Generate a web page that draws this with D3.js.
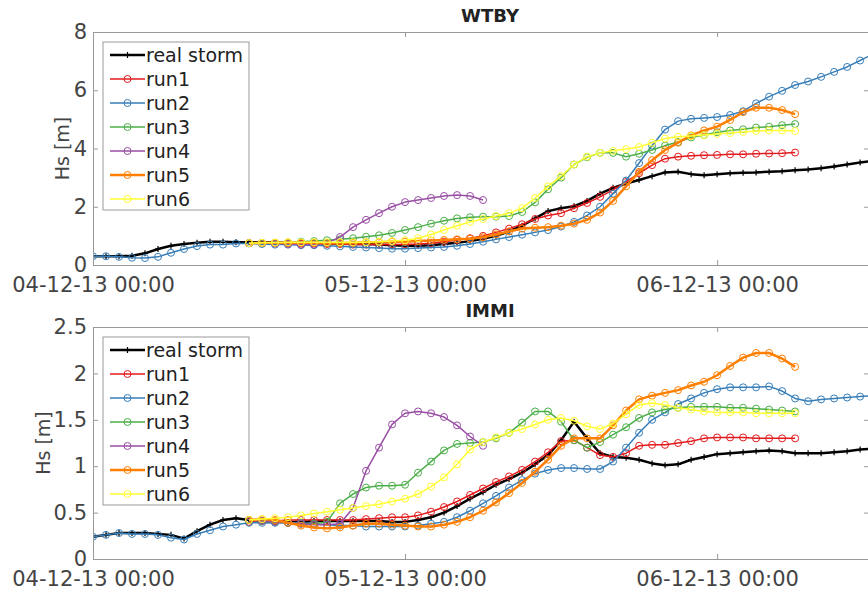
<!DOCTYPE html>
<html>
<head>
<meta charset="utf-8">
<title>Hs - WTBY / IMMI</title>
<script src="https://d3js.org/d3.v7.min.js"></script>
<style>
body { margin: 0; background: #fff; }
svg { display: block; font-family: "DejaVu Sans", Verdana, sans-serif; }
.axis path, .axis line { stroke: #999; }
.axis text { fill: #444; font-size: 21px; }
</style>
</head>
<body>
<svg width="868" height="591"></svg>
<script>
// hourly Hs [m]; real storm and run2 start 04-12-13 00:00, run1,3,4,5,6 start at 12:00
var wtbyReal = [0.3,0.3,0.3,0.32,0.4,0.55,0.66,0.72,0.76,0.8,
  0.8,0.78,0.78,0.78,0.78,0.76,0.75,0.75,0.74,0.73,
  0.72,0.72,0.7,0.68,0.66,0.66,0.68,0.72,0.76,0.82,
  0.9,1.0,1.15,1.35,1.6,1.85,1.95,2.02,2.2,2.45,
  2.65,2.8,2.92,3.05,3.18,3.2,3.12,3.08,3.12,3.15,
  3.17,3.18,3.2,3.22,3.25,3.28,3.32,3.38,3.45,3.52,3.58];
var wtbyRun1 = [0.75,0.75,0.75,0.75,0.74,0.74,0.72,0.72,0.7,0.7,
  0.7,0.7,0.7,0.72,0.75,0.8,0.86,0.92,1.0,1.12,
  1.25,1.4,1.58,1.7,1.78,1.95,2.13,2.34,2.58,2.85,
  3.15,3.43,3.65,3.72,3.75,3.77,3.78,3.8,3.8,3.82,
  3.83,3.84,3.86];
var wtbyRun2 = [0.3,0.3,0.28,0.25,0.24,0.28,0.42,0.55,0.65,0.7,
  0.7,0.74,0.74,0.72,0.7,0.7,0.68,0.68,0.66,0.64,
  0.62,0.6,0.58,0.56,0.56,0.58,0.6,0.62,0.66,0.72,
  0.8,0.88,0.96,1.04,1.12,1.2,1.32,1.48,1.7,2.0,
  2.45,2.9,3.5,4.1,4.65,4.94,5.02,5.05,5.08,5.15,
  5.28,5.55,5.78,5.98,6.18,6.3,6.46,6.63,6.8,7.02,7.25];
var wtbyRun3 = [0.75,0.75,0.76,0.77,0.8,0.82,0.85,0.88,0.92,0.97,
  1.02,1.1,1.2,1.3,1.42,1.52,1.6,1.64,1.66,1.66,
  1.68,1.82,2.15,2.6,3.0,3.45,3.7,3.85,3.85,3.72,
  3.82,3.95,4.1,4.22,4.38,4.46,4.56,4.62,4.66,4.72,
  4.75,4.8,4.84];
var wtbyRun4 = [0.75,0.75,0.74,0.72,0.7,0.7,0.75,0.96,1.3,1.55,
  1.78,2.0,2.16,2.23,2.3,2.37,2.4,2.37,2.23];
var wtbyRun5 = [0.75,0.76,0.76,0.76,0.76,0.76,0.75,0.75,0.76,0.78,
  0.78,0.8,0.8,0.82,0.84,0.86,0.88,0.9,0.95,1.05,
  1.15,1.25,1.28,1.3,1.35,1.42,1.55,1.8,2.2,2.7,
  3.2,3.6,3.95,4.2,4.45,4.62,4.75,4.98,5.25,5.4,
  5.4,5.32,5.18];
var wtbyRun6 = [0.75,0.76,0.77,0.78,0.78,0.78,0.78,0.78,0.78,0.78,
  0.8,0.82,0.85,0.92,1.05,1.2,1.35,1.48,1.58,1.68,
  1.78,1.95,2.3,2.7,3.05,3.45,3.72,3.85,3.92,3.98,
  4.05,4.2,4.34,4.4,4.43,4.46,4.5,4.53,4.57,4.6,
  4.62,4.62,4.6];

var immiReal = [0.24,0.26,0.28,0.28,0.28,0.27,0.26,0.22,0.3,0.37,
  0.42,0.44,0.42,0.4,0.4,0.4,0.4,0.41,0.41,0.41,
  0.41,0.41,0.41,0.4,0.4,0.42,0.45,0.5,0.57,0.65,
  0.72,0.8,0.86,0.93,1.02,1.12,1.28,1.48,1.3,1.14,
  1.1,1.09,1.07,1.03,1.01,1.02,1.07,1.1,1.13,1.14,
  1.15,1.16,1.17,1.16,1.14,1.14,1.14,1.15,1.16,1.18,1.19];
var immiRun1 = [0.4,0.41,0.41,0.42,0.42,0.42,0.42,0.42,0.42,0.43,
  0.44,0.45,0.45,0.47,0.51,0.56,0.62,0.69,0.76,0.83,
  0.89,0.96,1.05,1.15,1.27,1.28,1.2,1.12,1.1,1.14,
  1.22,1.23,1.23,1.25,1.27,1.3,1.31,1.31,1.31,1.3,
  1.3,1.3,1.3];
var immiRun2 = [0.24,0.26,0.28,0.27,0.27,0.26,0.23,0.21,0.27,0.31,
  0.35,0.37,0.39,0.39,0.39,0.39,0.39,0.38,0.37,0.36,
  0.36,0.35,0.35,0.35,0.35,0.36,0.38,0.4,0.45,0.52,
  0.6,0.68,0.77,0.85,0.92,0.96,0.98,0.98,0.97,0.97,
  1.05,1.2,1.36,1.5,1.58,1.67,1.73,1.79,1.83,1.85,
  1.85,1.85,1.86,1.81,1.73,1.7,1.72,1.73,1.74,1.75,1.76];
var immiRun3 = [0.42,0.41,0.4,0.39,0.38,0.38,0.4,0.6,0.7,0.77,
  0.79,0.79,0.8,0.93,1.05,1.17,1.24,1.25,1.26,1.3,
  1.36,1.47,1.59,1.59,1.48,1.28,1.2,1.26,1.34,1.42,
  1.52,1.58,1.61,1.63,1.64,1.64,1.64,1.63,1.63,1.62,
  1.61,1.6,1.59];
var immiRun4 = [0.42,0.41,0.4,0.39,0.38,0.37,0.37,0.38,0.55,0.95,
  1.2,1.45,1.57,1.59,1.57,1.53,1.44,1.32,1.22];
var immiRun5 = [0.42,0.43,0.42,0.39,0.36,0.34,0.33,0.34,0.36,0.38,
  0.38,0.37,0.36,0.35,0.35,0.37,0.4,0.45,0.52,0.61,
  0.71,0.82,0.94,1.07,1.22,1.3,1.3,1.3,1.44,1.6,
  1.72,1.76,1.79,1.82,1.87,1.91,1.98,2.08,2.17,2.22,
  2.22,2.16,2.07];
var immiRun6 = [0.42,0.43,0.44,0.45,0.47,0.49,0.51,0.53,0.55,0.57,
  0.59,0.62,0.65,0.7,0.78,0.88,1.02,1.18,1.26,1.31,
  1.36,1.4,1.45,1.5,1.52,1.49,1.43,1.4,1.46,1.56,
  1.66,1.68,1.66,1.63,1.61,1.59,1.58,1.58,1.58,1.57,
  1.57,1.57,1.57];

var seriesNames = ["real storm", "run1", "run2", "run3", "run4", "run5", "run6"];
var seriesColors = ["#000000", "#e41a1c", "#377eb8", "#4daf4a", "#984ea3", "#ff7f00", "#ffff33"];
var seriesStart = [0, 12, 0, 12, 12, 12, 12];   // start hour after 04-12-13 00:00
var wtbyTicks = [0, 2, 4, 6, 8];
var immiTicks = [0, 0.5, 1, 1.5, 2, 2.5];

var svg = d3.select("svg");
var t0 = new Date(Date.UTC(2013, 11, 4, 0, 0));
var x = d3.scaleUtc()
    .domain([t0, new Date(Date.UTC(2013, 11, 6, 11, 41))])
    .range([93, 869]);
var xTicks = [new Date(Date.UTC(2013, 11, 4)), new Date(Date.UTC(2013, 11, 5)), new Date(Date.UTC(2013, 11, 6))];
var fmt = d3.utcFormat("%d-%m-%y %H:%M");

var panels = [
  {name: "WTBY", top: 32, bottom: 265, yMax: 8, ticks: wtbyTicks, labelX: 62,
   data: [wtbyReal, wtbyRun1, wtbyRun2, wtbyRun3, wtbyRun4, wtbyRun5, wtbyRun6]},
  {name: "IMMI", top: 327, bottom: 559, yMax: 2.5, ticks: immiTicks, labelX: 43,
   data: [immiReal, immiRun1, immiRun2, immiRun3, immiRun4, immiRun5, immiRun6]}
];

function lineWidth(i) { return i === 0 || i === 5 ? 2.5 : 1.5; }

function drawMarker(sel, i) {
  if (i === 0) {
    sel.append("path").attr("d", "M-3,0H3M0,-3V3")
      .attr("stroke", seriesColors[i]).attr("stroke-width", 1.2);
  } else {
    sel.append("circle").attr("r", 3.5).attr("fill", "none")
      .attr("stroke", seriesColors[i]).attr("stroke-width", 1);
  }
}

panels.forEach(function(p) {
  var y = d3.scaleLinear().domain([0, p.yMax]).range([p.bottom, p.top]);
  var g = svg.append("g");

  svg.append("clipPath").attr("id", "clip-" + p.name)
    .append("rect").attr("x", 93).attr("y", p.top - 4)
    .attr("width", 776).attr("height", p.bottom - p.top + 4);

  var plot = g.append("g").attr("clip-path", "url(#clip-" + p.name + ")");
  var line = d3.line().x(function(d) { return x(d.t); }).y(function(d) { return y(d.v); });

  p.data.forEach(function(vals, i) {
    var pts = vals.map(function(v, k) {
      return {t: new Date(t0.getTime() + (seriesStart[i] + k) * 3600e3), v: v};
    });
    plot.append("path").datum(pts)
      .attr("d", line)
      .attr("fill", "none")
      .attr("stroke", seriesColors[i])
      .attr("stroke-width", lineWidth(i))
      .attr("stroke-linejoin", "round");
    plot.selectAll(null).data(pts).enter().append("g")
      .attr("transform", function(d) { return "translate(" + x(d.t) + "," + y(d.v) + ")"; })
      .each(function() { drawMarker(d3.select(this), i); });
  });

  // box with inward ticks
  g.append("g").attr("class", "axis")
    .attr("transform", "translate(0," + p.bottom + ")")
    .call(d3.axisBottom(x).tickValues(xTicks).tickFormat(fmt).tickSizeInner(-5).tickSizeOuter(0).tickPadding(12));
  g.append("g").attr("class", "axis")
    .attr("transform", "translate(0," + p.top + ")")
    .call(d3.axisTop(x).tickValues(xTicks).tickFormat("").tickSizeInner(-5).tickSizeOuter(0));
  g.append("g").attr("class", "axis")
    .attr("transform", "translate(93,0)")
    .call(d3.axisLeft(y).tickValues(p.ticks).tickFormat(d3.format("")).tickSizeInner(-5).tickSizeOuter(0).tickPadding(6));
  g.append("g").attr("class", "axis")
    .attr("transform", "translate(869,0)")
    .call(d3.axisRight(y).tickValues(p.ticks).tickFormat("").tickSizeInner(-5).tickSizeOuter(0));
  g.selectAll(".axis").attr("font-family", null).attr("font-size", null);

  g.append("text")
    .attr("x", 490).attr("y", p.top - 10)
    .attr("text-anchor", "middle")
    .style("font-size", "18px").style("font-weight", "bold").style("fill", "#222")
    .text(p.name);

  g.append("text")
    .attr("transform", "translate(" + p.labelX + "," + ((p.top + p.bottom) / 2) + ") rotate(-90)")
    .attr("text-anchor", "middle").attr("dy", "0.35em")
    .style("font-size", "19px").style("fill", "#444")
    .text("Hs [m]");

  // legend
  var lg = g.append("g").attr("transform", "translate(103," + (p.top + 10) + ")");
  lg.append("rect").attr("width", 146).attr("height", 168)
    .attr("fill", "#fff").attr("stroke", "#999");
  seriesNames.forEach(function(name, i) {
    var row = lg.append("g").attr("transform", "translate(0," + (13 + i * 24) + ")");
    row.append("line").attr("x1", 7).attr("x2", 42)
      .attr("stroke", seriesColors[i]).attr("stroke-width", lineWidth(i));
    drawMarker(row.append("g").attr("transform", "translate(24.5,0)"), i);
    row.append("text").attr("x", 43).attr("dy", "0.35em")
      .style("font-size", "19px").style("fill", "#222")
      .text(name);
  });
});
</script>
</body>
</html>
